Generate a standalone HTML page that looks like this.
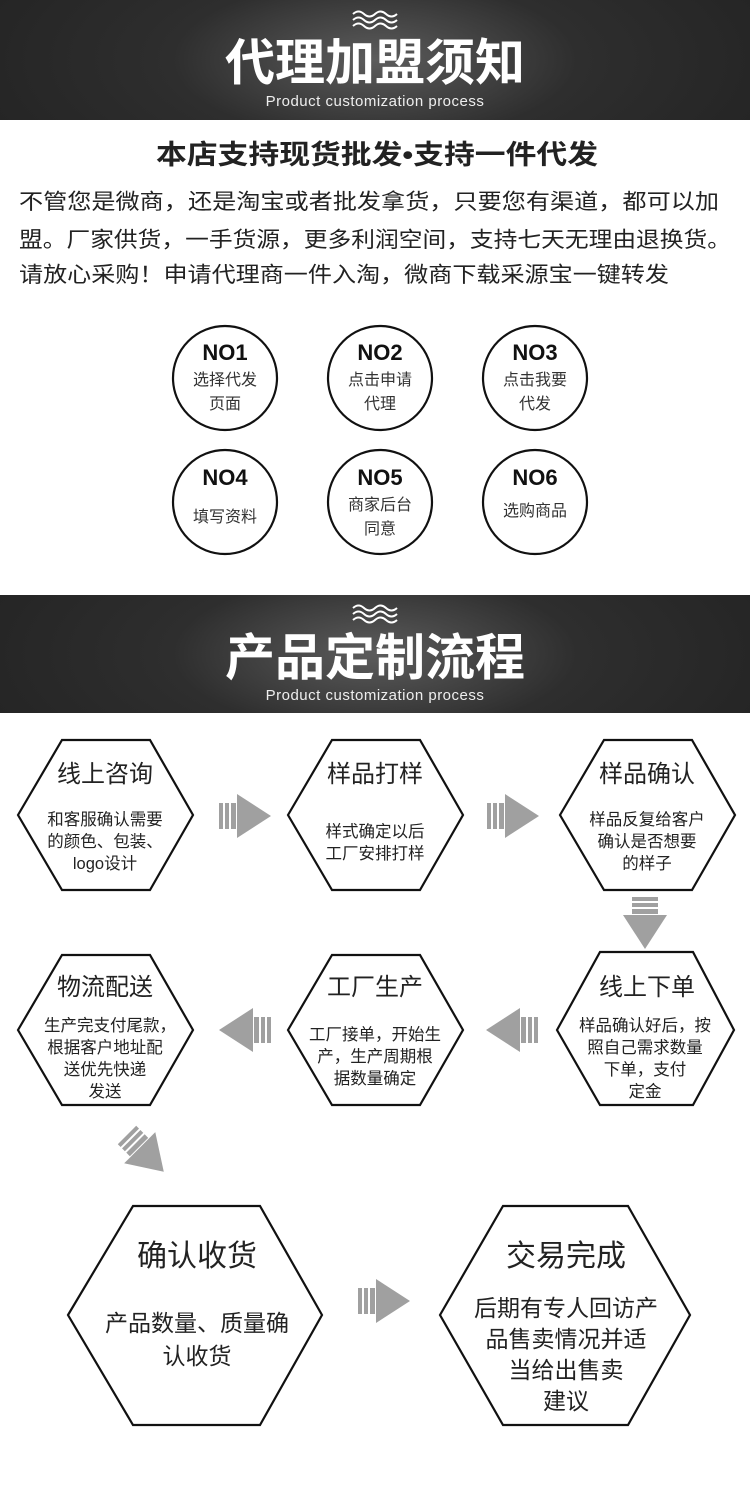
<!DOCTYPE html>
<html><head><meta charset="utf-8"><style>
body{margin:0;width:750px;height:1500px;background:#fff;overflow:hidden}
svg text{font-family:"Liberation Sans","Noto Sans CJK SC",sans-serif}
</style></head><body>
<svg width="750" height="1500" viewBox="0 0 750 1500" xmlns="http://www.w3.org/2000/svg">
<defs>
<radialGradient id="g" cx="0.5" cy="0.5" r="0.6" gradientTransform="scale(1,2.5) translate(0,-0.3)">
<stop offset="0" stop-color="#5c5c5c"/><stop offset="0.45" stop-color="#2e2e2e"/><stop offset="1" stop-color="#232323"/></radialGradient>
<g id="waves" fill="none" stroke="#fff" stroke-width="2">
<path d="M-22,-6 q5.5,-5 11,0 t11,0 t11,0 t11,0"/><path d="M-22,0 q5.5,-5 11,0 t11,0 t11,0 t11,0"/><path d="M-22,6 q5.5,-5 11,0 t11,0 t11,0 t11,0"/></g>
<g id="ar" fill="#a0a0a0"><rect x="0" y="-13" width="4" height="26"/><rect x="6" y="-13" width="4" height="26"/><rect x="12" y="-13" width="5" height="26"/><polygon points="18,-22 52,0 18,22"/></g>
</defs>
<rect x="0" y="0" width="750" height="120" fill="url(#g)"/>
<use href="#waves" transform="translate(375,20)"/>
<text x="375" y="80" text-anchor="middle" fill="#fff" font-size="50" font-weight="bold">代理加盟须知</text>
<text x="375" y="106" text-anchor="middle" fill="#eee" font-size="15" letter-spacing="0.5">Product customization process</text>
<text x="377" y="164" text-anchor="middle" fill="#222" font-size="27" font-weight="bold" textLength="442" lengthAdjust="spacingAndGlyphs">本店支持现货批发•支持一件代发</text>
<g fill="#222" font-size="21.5">
<text x="19" y="209" textLength="700" lengthAdjust="spacingAndGlyphs">不管您是微商，还是淘宝或者批发拿货，只要您有渠道，都可以加</text>
<text x="19" y="247" textLength="712" lengthAdjust="spacingAndGlyphs">盟。厂家供货，一手货源，更多利润空间，支持七天无理由退换货。</text>
<text x="19" y="282" textLength="650" lengthAdjust="spacingAndGlyphs">请放心采购！申请代理商一件入淘，微商下载采源宝一键转发</text>
</g>
<g fill="none" stroke="#111" stroke-width="2.2">
<circle cx="225" cy="378" r="52"/><circle cx="380" cy="378" r="52"/><circle cx="535" cy="378" r="52"/>
<circle cx="225" cy="502" r="52"/><circle cx="380" cy="502" r="52"/><circle cx="535" cy="502" r="52"/></g>
<g text-anchor="middle" fill="#111">
<g font-size="22" font-weight="bold">
<text x="225" y="360">NO1</text><text x="380" y="360">NO2</text><text x="535" y="360">NO3</text>
<text x="225" y="485">NO4</text><text x="380" y="485">NO5</text><text x="535" y="485">NO6</text></g>
<g font-size="16" fill="#333">
<text x="225" y="385">选择代发</text><text x="225" y="409">页面</text>
<text x="380" y="385">点击申请</text><text x="380" y="409">代理</text>
<text x="535" y="385">点击我要</text><text x="535" y="409">代发</text>
<text x="225" y="522">填写资料</text>
<text x="380" y="510">商家后台</text><text x="380" y="534">同意</text>
<text x="535" y="516">选购商品</text></g></g>
<rect x="0" y="595" width="750" height="118" fill="url(#g)"/>
<use href="#waves" transform="translate(375,614)"/>
<text x="375" y="675" text-anchor="middle" fill="#fff" font-size="50" font-weight="bold">产品定制流程</text>
<text x="375" y="700" text-anchor="middle" fill="#eee" font-size="15" letter-spacing="0.5">Product customization process</text>
<g fill="none" stroke="#111" stroke-width="2.2">
<polygon points="18,815 62,740 150,740 193,815 150,890 62,890"/>
<polygon points="288,815 332,740 420,740 463,815 420,890 332,890"/>
<polygon points="560,815 604,740 692,740 735,815 692,890 604,890"/>
<polygon points="18,1030 62,955 150,955 193,1030 150,1105 62,1105"/>
<polygon points="288,1030 332,955 420,955 463,1030 420,1105 332,1105"/>
<polygon points="557,1030 600,952 693,952 734,1030 693,1105 600,1105"/>
<polygon points="68,1315 133,1206 260,1206 322,1315 260,1425 133,1425"/>
<polygon points="440,1315 503,1206 628,1206 690,1315 628,1425 503,1425"/>
</g>
<g text-anchor="middle" fill="#222">
<g font-size="24">
<text x="105" y="782">线上咨询</text><text x="375" y="782">样品打样</text><text x="647" y="782">样品确认</text>
<text x="105" y="995">物流配送</text><text x="375" y="995">工厂生产</text><text x="647" y="995">线上下单</text></g>
<g font-size="16.5">
<text x="105" y="825">和客服确认需要</text><text x="105" y="847">的颜色、包装、</text><text x="105" y="869">logo设计</text>
<text x="375" y="837">样式确定以后</text><text x="375" y="859">工厂安排打样</text>
<text x="647" y="825">样品反复给客户</text><text x="647" y="847">确认是否想要</text><text x="647" y="869">的样子</text>
<text x="110" y="1031">生产完支付尾款，</text><text x="105" y="1053">根据客户地址配</text><text x="105" y="1075">送优先快递</text><text x="105" y="1097">发送</text>
<text x="375" y="1040">工厂接单，开始生</text><text x="375" y="1062">产，生产周期根</text><text x="375" y="1084">据数量确定</text>
<text x="645" y="1031">样品确认好后，按</text><text x="645" y="1053">照自己需求数量</text><text x="645" y="1075">下单，支付</text><text x="645" y="1097">定金</text></g>
<g font-size="30">
<text x="197" y="1266">确认收货</text><text x="566" y="1266">交易完成</text></g>
<g font-size="23">
<text x="197" y="1331">产品数量、质量确</text><text x="197" y="1364">认收货</text>
<text x="566" y="1316">后期有专人回访产</text><text x="566" y="1347">品售卖情况并适</text><text x="566" y="1378">当给出售卖</text><text x="566" y="1409">建议</text></g></g>
<use href="#ar" transform="translate(219,816)"/>
<use href="#ar" transform="translate(487,816)"/>
<use href="#ar" transform="translate(645,897) rotate(90)"/>
<use href="#ar" transform="translate(538,1030) rotate(180)"/>
<use href="#ar" transform="translate(271,1030) rotate(180)"/>
<use href="#ar" transform="translate(127,1135) rotate(45)"/>
<use href="#ar" transform="translate(358,1301)"/>
</svg>
</body></html>
